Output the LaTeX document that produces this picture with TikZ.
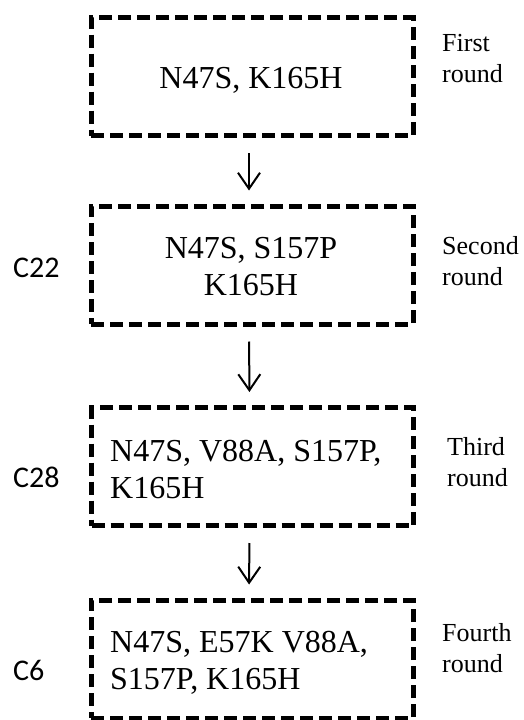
\documentclass[tikz,border=0pt]{standalone}
\usepackage{fontspec}
\setmainfont{Liberation Serif}
\newfontfamily\calib{Carlito}
\usetikzlibrary{arrows.meta}
\begin{document}
\begin{tikzpicture}[x=1pt,y=-1pt,
  dbox/.style={draw, line width=5pt, dash pattern=on 13pt off 6pt,
    minimum width=322pt, minimum height=118pt, inner sep=0pt},
  mut/.style={font=\fontsize{32}{37}\selectfont, inner sep=0pt, anchor=base},
  rnd/.style={font=\fontsize{26}{31}\selectfont, inner sep=0pt, align=left, anchor=base west},
  lab/.style={font=\calib\fontsize{30}{34}\selectfont, inner sep=0pt, anchor=base west},
  arr/.style={line width=2pt, -{Straight Barb[length=16pt,width=22pt,line width=2pt]},
    shorten <=15pt, shorten >=13pt}]
\useasboundingbox (0,0) rectangle (523,720);
\node[dbox] (b1) at (252,76.5) {};
\node[dbox] (b2) at (252,265) {};
\node[dbox] (b3) at (252.5,466.5) {};
\node[dbox] (b4) at (252,659) {};
\node[mut] (t1) at (251,88) {N47S, K165H};
\node[mut, align=center] (t2) at (251,295) {N47S, S157P\\K165H};
\node[mut, align=left, anchor=base west] (t3) at (110,498) {N47S, V88A, S157P,\\K165H};
\node[mut, align=left, anchor=base west] (t4) at (110,689) {N47S, E57K V88A,\\S157P, K165H};
\node[rnd] (r1) at (442,82) {First\\round};
\node[rnd] (r2) at (442,285) {Second\\round};
\node[rnd] (r3) at (447,486) {Third\\round};
\node[rnd] (r4) at (442,672) {Fourth\\round};
\node[lab] (c22) at (13,277) {C22};
\node[lab] (c28) at (13,487) {C28};
\node[lab] (c6) at (13,680) {C6};
\draw[arr] ([xshift=-3pt]b1.south) -- ([xshift=-3pt]b2.north);
\draw[arr] ([xshift=-3pt]b2.south) -- ([xshift=-3pt]b3.north);
\draw[arr] ([xshift=-3pt]b3.south) -- ([xshift=-3pt]b4.north);
\end{tikzpicture}
\end{document}
